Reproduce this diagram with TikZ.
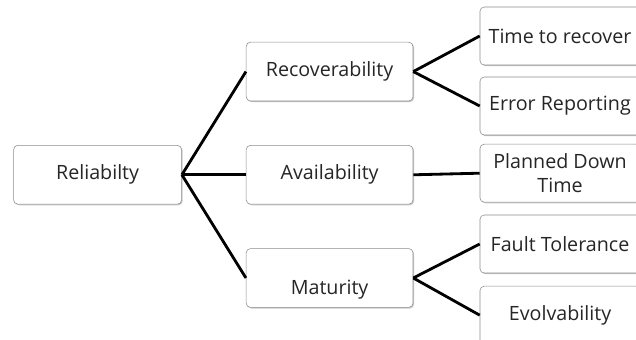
\documentclass[tikz,border=0pt]{standalone}
\usepackage{fontspec}
\setmainfont{Open Sans}
\usetikzlibrary{shadows}

\begin{document}
\begin{tikzpicture}[font=\fontsize{14}{16}\selectfont]
\tikzstyle{box}=[draw=black!45,fill=white,rounded corners=3pt,align=center,text=black!85,minimum height=1.47cm,drop shadow={shadow xshift=0.8pt,shadow yshift=-0.8pt,fill=black!35,opacity=0.6}]
\tikzstyle{leaf}=[box,minimum width=4.0cm,minimum height=1.45cm]
\tikzstyle{link}=[line width=2pt]
\useasboundingbox (0,0) rectangle (15.9,-8.5);
\node[box,minimum width=4.2cm] (rel) at (2.44,-4.37) {Reliabilty};
\foreach \nm/\yy/\txt in {rec/-1.79/Recoverability, ava/-4.37/Availability} {
  \node[box,minimum width=4.17cm] (\nm) at (8.24,\yy) {\txt};
}
\node[box,minimum width=4.17cm,text height=0.95cm] (mat) at (8.24,-6.95) {Maturity};
\foreach \nm/\yy/\txt in {ttr/-0.9/Time to recover, err/-2.65/Error Reporting, pdt/-4.33/Planned Down\\[1pt]Time, flt/-6.1/Fault Tolerance, evo/-7.88/Evolvability} {
  \node[leaf,inner xsep=1pt] (\nm) at (14.0,\yy) {\txt};
}
\foreach \a/\b in {rel/rec, rel/ava, rel/mat, rec/ttr, rec/err, ava/pdt, mat/flt, mat/evo} {
  \draw[link] (\a.east) -- (\b.west);
}
\end{tikzpicture}
\end{document}
